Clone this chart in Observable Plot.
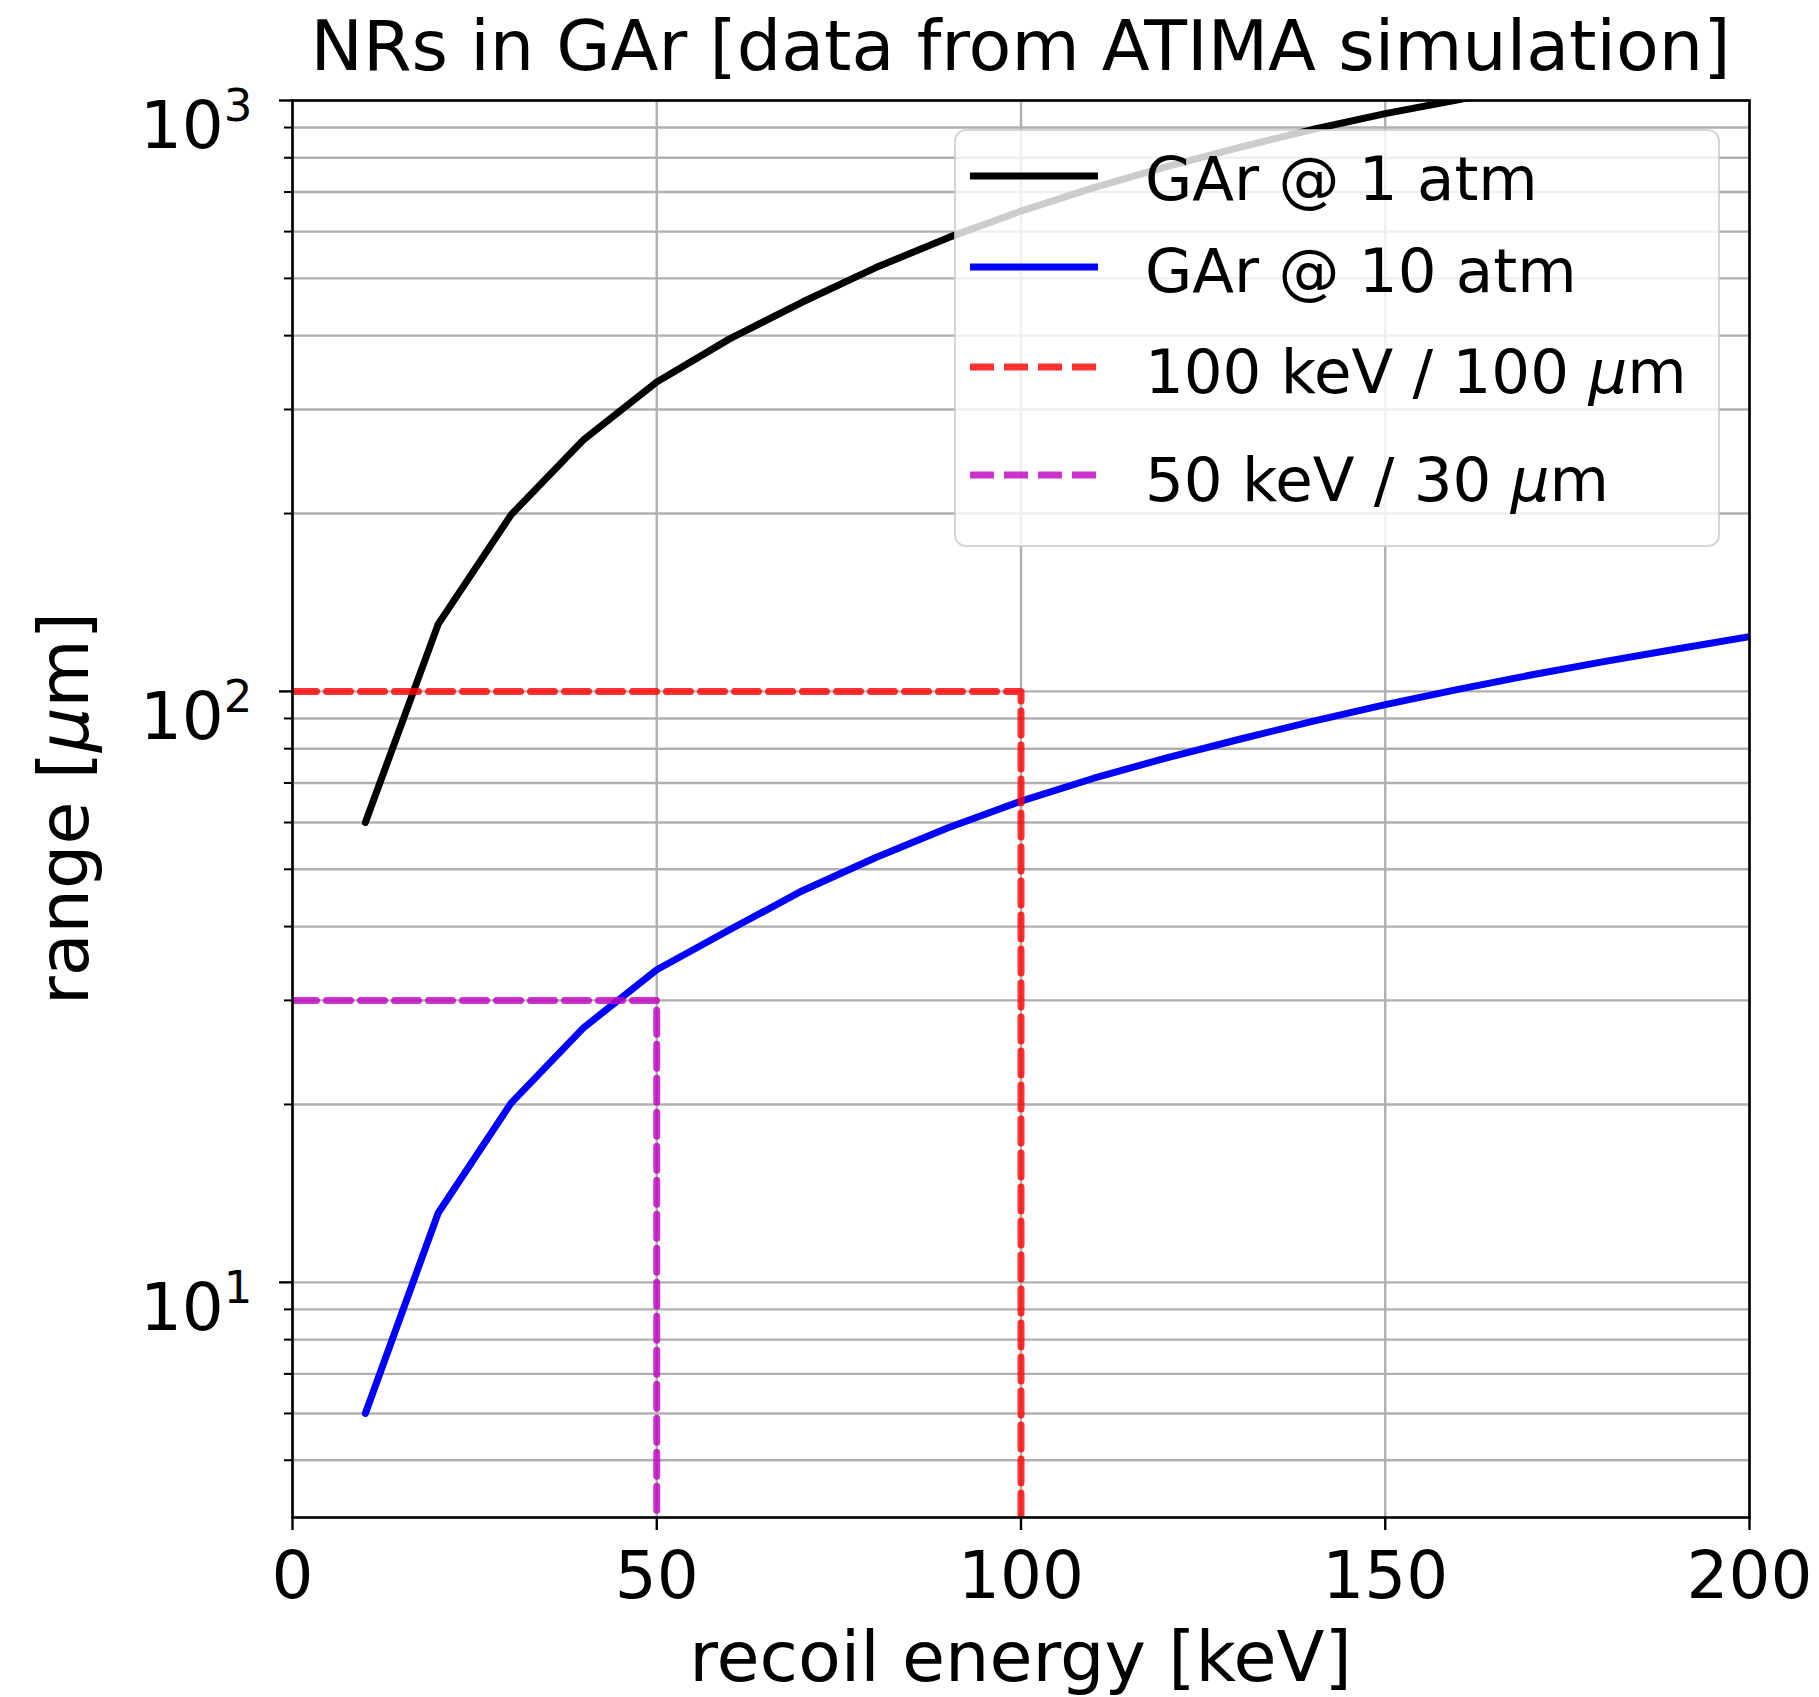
<!DOCTYPE html>
<html><head><meta charset="utf-8">
<script src="https://cdn.jsdelivr.net/npm/d3@7"></script>
<script src="https://cdn.jsdelivr.net/npm/@observablehq/plot@0.6"></script>
<style>html,body{margin:0;padding:0;background:#fff;} #chart svg{display:block}</style>
</head><body><div id="chart"></div>
<script>
// ---- data ----
const energy = [10, 20, 30, 40, 50, 60, 70, 80, 90, 100, 110, 120, 130, 140, 150, 160, 170, 180, 190, 200];
const range1atm = [60, 130, 199, 267, 334, 395, 456, 521, 586, 650, 712, 773, 833, 893, 950, 1003, 1062, 1120, 1178, 1236];
const range10atm = [6.0, 13.1, 20.1, 27.0, 33.8, 39.5, 46.0, 52.3, 58.8, 65.2, 71.3, 77.2, 83.0, 89.0, 95.0, 100.8, 106.6, 112.3, 118.0, 123.8];
const seriesNames = ["GAr @ 1 atm", "GAr @ 10 atm"];
const guideEnergy = [100, 50];
const guideRange = [100, 30];
const guideNames = ["100 keV / 100 μm", "50 keV / 30 μm"];
const xTicks = [0, 50, 100, 150, 200];
const yMajor = [10, 100, 1000];
const yMinor = [5, 6, 7, 8, 9, 20, 30, 40, 50, 60, 70, 80, 90, 200, 300, 400, 500, 600, 700, 800, 900];
const xDomain = [0, 200];
const yDomain = [4, 1000];
const titleText = "NRs in GAr [data from ATIMA simulation]";
const xLabel = "recoil energy [keV]";
const yLabel = "range [μm]";

// ---- styles ----
const colors = ["#000000", "#0000ff", "red", "#bf00bf"];
const FONT = "DejaVu Sans";
const LW = 7;
const DASH = "24,10";
const sup = {"1": "¹", "2": "²", "3": "³"};

const rows1 = energy.map((e, i) => ({e, r: range1atm[i]}));
const rows10 = energy.map((e, i) => ({e, r: range10atm[i]}));
const guides = guideEnergy.map((e, i) => [
  {e: xDomain[0], r: guideRange[i]}, {e, r: guideRange[i]}, {e, r: yDomain[0]}
]);

const W = 1819, H = 1697;
const mL = 292, mR = 70, mT = 100, mB = 180;

const chart = Plot.plot({
  width: W, height: H,
  marginLeft: mL, marginRight: mR, marginTop: mT, marginBottom: mB,
  x: {domain: xDomain},
  y: {type: "log", domain: yDomain},
  style: {fontFamily: FONT, fontSize: "66px", color: "black", background: "white", overflow: "visible"},
  marks: [
    Plot.gridY(yMajor.concat(yMinor), {stroke: "#b0b0b0", strokeOpacity: 1, strokeWidth: 2.4}),
    Plot.gridX(xTicks, {stroke: "#b0b0b0", strokeOpacity: 1, strokeWidth: 2.4}),
    Plot.line(rows1, {x: "e", y: "r", stroke: colors[0], strokeWidth: LW, clip: true}),
    Plot.line(rows10, {x: "e", y: "r", stroke: colors[1], strokeWidth: LW, clip: true}),
    Plot.line(guides[0], {x: "e", y: "r", stroke: colors[2], strokeOpacity: 0.8, strokeWidth: LW, strokeDasharray: DASH, clip: true}),
    Plot.line(guides[1], {x: "e", y: "r", stroke: colors[3], strokeOpacity: 0.8, strokeWidth: LW, strokeDasharray: DASH, clip: true}),
    Plot.frame({stroke: "black", strokeWidth: 2.6}),
    Plot.axisX(xTicks, {tickSize: 13, tickPadding: 21, strokeWidth: 2.4, tickFormat: d => String(d), label: null}),
    Plot.axisY(yMajor, {tickSize: 13, tickPadding: 27, strokeWidth: 2.4, tickFormat: d => "10" + sup[String(Math.round(Math.log10(d)))], label: null}),
    Plot.axisY(yMinor, {tickSize: 8, strokeWidth: 2, tickFormat: () => "", label: null})
  ]
});
document.getElementById("chart").appendChild(chart);

const svg = d3.select(chart);

// y tick labels: real superscripts
svg.selectAll('g[aria-label="y-axis tick label"] text').each(function() {
  const t = d3.select(this);
  const s = t.text();
  if (!s) return;
  const expChar = s.slice(2);
  const exp = Object.keys(sup).find(k => sup[k] === expChar);
  t.text(null).attr("dy", "0.40em");
  t.append("tspan").text("10");
  t.append("tspan").attr("font-size", "45px").attr("dy", "-27px").text(exp);
});

// title
svg.append("text").attr("x", (mL + W - mR) / 2).attr("y", 70)
  .attr("text-anchor", "middle").attr("font-family", FONT).attr("font-size", 70).attr("fill", "black")
  .text(titleText);
// x label
svg.append("text").attr("x", (mL + W - mR) / 2).attr("y", 1681)
  .attr("text-anchor", "middle").attr("font-family", FONT).attr("font-size", 70).attr("fill", "black")
  .text(xLabel);
// y label with italic mu
function addMu(sel, str) {
  const parts = str.split("μ");
  sel.append("tspan").text(parts[0]);
  for (let i = 1; i < parts.length; i++) {
    sel.append("tspan").attr("font-style", "italic").text("μ");
    sel.append("tspan").text(parts[i]);
  }
}
const yl = svg.append("text").attr("transform", `translate(88,${(mT + H - mB) / 2}) rotate(-90)`)
  .attr("text-anchor", "middle").attr("font-family", FONT).attr("font-size", 70).attr("fill", "black");
addMu(yl, yLabel);

// legend
const lg = svg.append("g");
lg.append("rect").attr("x", 955).attr("y", 130).attr("width", 764).attr("height", 416).attr("rx", 11)
  .attr("fill", "white").attr("fill-opacity", 0.8).attr("stroke", "#cccccc").attr("stroke-opacity", 0.8).attr("stroke-width", 2);
const entries = [
  {name: seriesNames[0], color: colors[0], dash: null, op: 1, ly: 176, by: 200},
  {name: seriesNames[1], color: colors[1], dash: null, op: 1, ly: 267, by: 292},
  {name: guideNames[0], color: colors[2], dash: DASH, op: 0.8, ly: 367, by: 393},
  {name: guideNames[1], color: colors[3], dash: DASH, op: 0.8, ly: 475, by: 501}
];
entries.forEach(en => {
  const l = lg.append("line").attr("x1", 970).attr("x2", 1098).attr("y1", en.ly).attr("y2", en.ly)
    .attr("stroke", en.color).attr("stroke-opacity", en.op).attr("stroke-width", LW);
  if (en.dash) l.attr("stroke-dasharray", en.dash);
  const t = lg.append("text").attr("x", 1145).attr("y", en.by).attr("text-anchor", "start")
    .attr("font-family", FONT).attr("font-size", 61).attr("fill", "black");
  addMu(t, en.name);
});
</script>
</body></html>
